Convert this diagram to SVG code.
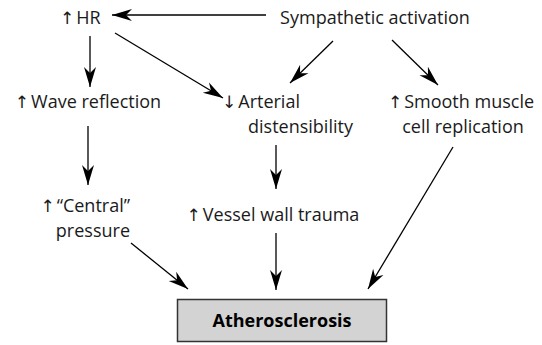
<svg xmlns="http://www.w3.org/2000/svg" width="542" height="345" viewBox="0 0 542 345">
<style>
text{font-family:"Open Sans","Noto Sans","Liberation Sans",sans-serif;font-size:18px;fill:#1a1a1a}
.a{font-family:"DejaVu Sans",sans-serif;font-size:17px;fill:#1a1a1a}
.c line{stroke:#000;stroke-width:1.3;marker-end:url(#ah)}
.b{font-weight:700;font-size:18px;fill:#000}
</style>
<defs>
<marker id="ah" markerUnits="userSpaceOnUse" markerWidth="24" markerHeight="16" refX="20" refY="7" orient="auto" viewBox="0 0 24 14">
<path d="M0,1 L20,7 L0,13 L6,7 z" fill="#000"/>
</marker>
</defs>
<rect width="542" height="345" fill="#fff"/>
<g id="hr"><text x="60" y="24"><tspan class="a">↑</tspan><tspan dx="2">HR</tspan></text></g>
<g id="symp"><text x="375" y="24" text-anchor="middle">Sympathetic activation</text></g>
<g id="wave"><text x="88" y="108" text-anchor="middle"><tspan class="a">↑</tspan><tspan dx="2">Wave reflection</tspan></text></g>
<g id="arterial"><text x="222" y="108"><tspan class="a">↓</tspan><tspan dx="2">Arterial</tspan></text><text x="248" y="133">distensibility</text></g>
<g id="smooth"><text x="461" y="108" text-anchor="middle"><tspan class="a">↑</tspan><tspan dx="2">Smooth muscle</tspan></text><text x="463" y="133" text-anchor="middle">cell replication</text></g>
<g id="central"><text x="130" y="212" text-anchor="end"><tspan class="a">↑</tspan><tspan dx="2">“Central”</tspan></text><text x="130" y="237" text-anchor="end">pressure</text></g>
<g id="vessel"><text x="273" y="221" text-anchor="middle"><tspan class="a">↑</tspan><tspan dx="2">Vessel wall trauma</tspan></text></g>
<g id="athero"><rect x="177.5" y="299.5" width="209" height="42" fill="#d3d3d3" stroke="#333" stroke-width="1.5"/><text class="b" x="282" y="327" text-anchor="middle">Atherosclerosis</text></g>
<g class="c" id="connectors">
<line x1="266" y1="15" x2="112" y2="15"/>
<line x1="90" y1="36" x2="90" y2="87"/>
<line x1="115" y1="33" x2="223" y2="98"/>
<line x1="333" y1="41" x2="290" y2="83"/>
<line x1="392" y1="40" x2="438" y2="85"/>
<line x1="88" y1="126" x2="88" y2="185"/>
<line x1="276" y1="145" x2="276" y2="189"/>
<line x1="276" y1="233" x2="276" y2="290"/>
<line x1="131" y1="243" x2="188" y2="289"/>
<line x1="453" y1="147" x2="368" y2="289"/>
</g>
</svg>
